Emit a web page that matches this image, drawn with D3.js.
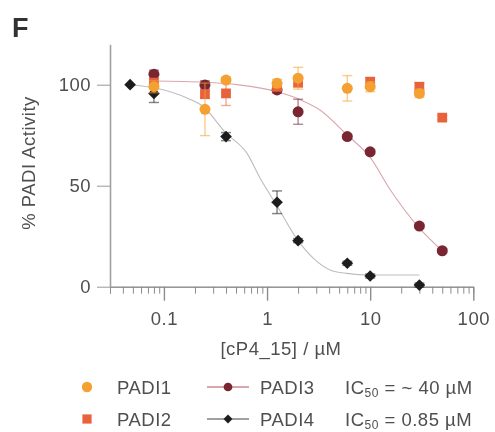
<!DOCTYPE html>
<html>
<head>
<meta charset="utf-8">
<script src="https://cdn.jsdelivr.net/npm/d3@7"></script>
<style>
  body { margin: 0; background: #fff; }
  text { font-family: "Liberation Sans", Arial, sans-serif; fill: #4f4f4f; letter-spacing: 0.5px; }
</style>
</head>
<body>
<div id="container"></div>
<script>
// [cP4_15] concentrations (uM), mean % activity and error
const padi1Conc = [0.08, 0.25, 0.4, 1.25, 2, 6, 10, 30]
const padi1Act  = [99, 87.8, 102.3, 100.7, 103.2, 98.2, 99, 95.7]
const padi1Err  = [3, 13, 1.5, 2, 5.4, 6.3, 2.5, 2]

const padi2Conc = [0.08, 0.25, 0.4, 1.25, 2, 10, 30, 50]
const padi2Act  = [101, 95.3, 95.7, 99, 101, 101.5, 99, 83.7]
const padi2Err  = [2, 2, 6, 2, 2, 2, 2, 1]

const padi3Conc = [0.08, 0.25, 1.25, 2, 6, 10, 30, 50]
const padi3Act  = [105.2, 99.9, 97.4, 86.6, 74.3, 66.8, 30, 17.8]
const padi3Err  = [2, 2, 1.5, 6.2, 1, 1, 1, 1]

const padi4Conc = [0.047, 0.08, 0.4, 1.25, 2, 6, 10, 30]
const padi4Act  = [100, 95.7, 74.3, 41.8, 22.8, 11.6, 5.3, 0.8]
const padi4Err  = [0, 4.5, 2, 5.6, 1, 1, 1, 1]

// fitted curves
const fit3Conc = [0.08, 0.25, 0.53, 1.25, 2, 3.26, 6, 10, 15.7, 30, 50]
const fit3Act  = [101.8, 101.2, 99.9, 96.5, 93, 87.5, 75, 64, 47.9, 29, 17.8]
const fit4Conc = [0.047, 0.085, 0.167, 0.24, 0.4, 0.64, 0.855, 1.25, 2, 2.82, 4.09, 5.93, 10, 30]
const fit4Act  = [100, 98.2, 93.4, 89.2, 76, 66, 53.8, 40, 22.8, 14, 8.3, 6.6, 5.8, 5.8]

const xMajor = [0.1, 1, 10, 100]
const yTicks = [0, 50, 100]

const legendNames = ["PADI1", "PADI2", "PADI3", "PADI4"]
const ic50Labels = ["~ 40 \u00b5M", "0.85 \u00b5M"]

const colors = {PADI1: "#f5a033", PADI2: "#e8623b", PADI3: "#7a2832", PADI4: "#1f1f1f"}

const width = 495
const height = 432
const root = d3.select("#container").append("svg")
  .attr("width", width)
  .attr("height", height)

// the source figure is soft, so blur everything a touch
root.append("defs").append("filter").attr("id", "soft")
  .append("feGaussianBlur").attr("stdDeviation", 0.45)
const svg = root.append("g").attr("filter", "url(#soft)")

const x = d3.scaleLog().domain([0.03, 100]).range([110, 473.3])
const y = d3.scaleLinear().domain([0, 120]).range([286.7, 44.3])

// panel letter
svg.append("text")
  .attr("x", 12).attr("y", 37)
  .style("font-size", "27px").style("font-weight", "bold").style("fill", "#333")
  .style("letter-spacing", "0px")
  .text("F")

// x axis: minor ticks then major ticks with labels
const minor = x.ticks().filter(v => !xMajor.some(m => Math.abs(m - v) < 1e-9))
svg.append("g")
  .attr("transform", `translate(0,${y(0)})`)
  .call(d3.axisBottom(x).tickValues(minor).tickSize(7).tickFormat(""))
  .call(g => g.selectAll("line,path").attr("stroke", "#8c8c8c"))

svg.append("g")
  .attr("transform", `translate(0,${y(0)})`)
  .call(d3.axisBottom(x).tickValues(xMajor).tickSize(14).tickPadding(11).tickSizeOuter(0)
    .tickFormat(d => d < 1 ? d3.format(".1f")(d) : d3.format("d")(d)))
  .call(g => g.select(".domain").attr("stroke", "#8c8c8c"))
  .call(g => g.selectAll(".tick line").attr("stroke", "#8c8c8c").attr("stroke-width", 1.4))
  .call(g => g.selectAll("text").style("font-size", "18.5px").style("font-family", null).attr("fill", null))

// y axis
svg.append("g")
  .attr("transform", `translate(${x(0.03)},0)`)
  .call(d3.axisLeft(y).tickValues(yTicks).tickSize(13).tickPadding(6).tickSizeOuter(0))
  .call(g => g.select(".domain").attr("stroke", "#a0a0a0").attr("stroke-width", 1.6))
  .call(g => g.selectAll(".tick line").attr("stroke", "#999"))
  .call(g => g.selectAll("text").style("font-size", "18.5px").style("font-family", null).attr("fill", null))

// axis titles
svg.append("text")
  .attr("x", 281).attr("y", 355)
  .attr("text-anchor", "middle")
  .style("font-size", "18.5px")
  .text("[cP4_15] / \u00b5M")

svg.append("text")
  .attr("transform", "translate(35,163) rotate(-90)")
  .attr("text-anchor", "middle")
  .style("font-size", "18.5px")
  .text("% PADI Activity")

// fit lines
const line = d3.line().x(d => x(d[0])).y(d => y(d[1])).curve(d3.curveMonotoneX)
svg.append("path")
  .datum(d3.zip(fit3Conc, fit3Act))
  .attr("d", line)
  .attr("fill", "none").attr("stroke", "#d9a7ae").attr("stroke-width", 1.1)
svg.append("path")
  .datum(d3.zip(fit4Conc, fit4Act))
  .attr("d", line)
  .attr("fill", "none").attr("stroke", "#bdbdbd").attr("stroke-width", 1.1)

const symbolFor = {
  PADI1: d3.symbol().type(d3.symbolCircle).size(95),
  PADI2: d3.symbol().type(d3.symbolSquare).size(95),
  PADI3: d3.symbol().type(d3.symbolCircle).size(95),
  PADI4: d3.symbol().type(d3.symbolSquare).size(68)
}
const rotFor = name => name === "PADI4" ? " rotate(45)" : ""

const drawSeries = (name, conc, act, err) => {
  const data = d3.zip(conc, act, err)
  const g = svg.append("g").attr("class", name)
  const col = colors[name]
  const bars = g.selectAll(".err")
    .data(data.filter(d => d[2] > 0))
    .join("g")
    .attr("class", "err")
    .attr("stroke", col).attr("stroke-opacity", 0.55).attr("stroke-width", 1.4)
  bars.append("line")
    .attr("x1", d => x(d[0])).attr("x2", d => x(d[0]))
    .attr("y1", d => y(d[1] - d[2])).attr("y2", d => y(d[1] + d[2]))
  bars.append("line")
    .attr("x1", d => x(d[0]) - 5).attr("x2", d => x(d[0]) + 5)
    .attr("y1", d => y(d[1] - d[2])).attr("y2", d => y(d[1] - d[2]))
  bars.append("line")
    .attr("x1", d => x(d[0]) - 5).attr("x2", d => x(d[0]) + 5)
    .attr("y1", d => y(d[1] + d[2])).attr("y2", d => y(d[1] + d[2]))
  g.selectAll(".pt")
    .data(data)
    .join("path")
    .attr("class", "pt")
    .attr("d", symbolFor[name]())
    .attr("transform", d => `translate(${x(d[0])},${y(d[1])})` + rotFor(name))
    .attr("fill", col)
}

drawSeries("PADI4", padi4Conc, padi4Act, padi4Err)
drawSeries("PADI3", padi3Conc, padi3Act, padi3Err)
drawSeries("PADI2", padi2Conc, padi2Act, padi2Err)
drawSeries("PADI1", padi1Conc, padi1Act, padi1Err)

// legend
const legend = svg.append("g").style("font-size", "18.5px")
const rowY = [387, 419]
legendNames.forEach((name, i) => {
  const col = Math.floor(i / 2)
  const ry = rowY[i % 2]
  const mx = col === 0 ? 87 : 228
  if (col === 1) {
    legend.append("line")
      .attr("x1", 207).attr("x2", 249).attr("y1", ry).attr("y2", ry)
      .attr("stroke", name === "PADI3" ? "#b3505c" : "#444").attr("stroke-width", 1.1)
  }
  legend.append("path")
    .attr("d", (name === "PADI4" ? d3.symbol().type(d3.symbolSquare).size(40) : d3.symbol().type(name === "PADI2" ? d3.symbolSquare : d3.symbolCircle).size(col === 0 ? 85 : 60))())
    .attr("transform", `translate(${mx},${ry})` + rotFor(name))
    .attr("fill", colors[name])
  legend.append("text")
    .attr("x", col === 0 ? 117 : 260).attr("y", ry + 7)
    .text(name)
})
ic50Labels.forEach((lab, i) => {
  const t = legend.append("text").attr("x", 345).attr("y", rowY[i] + 7)
  t.append("tspan").text("IC")
  t.append("tspan").attr("dy", 3).style("font-size", "12px").text("50")
  t.append("tspan").attr("dy", -3).text(" = " + lab)
})
</script>
</body>
</html>
